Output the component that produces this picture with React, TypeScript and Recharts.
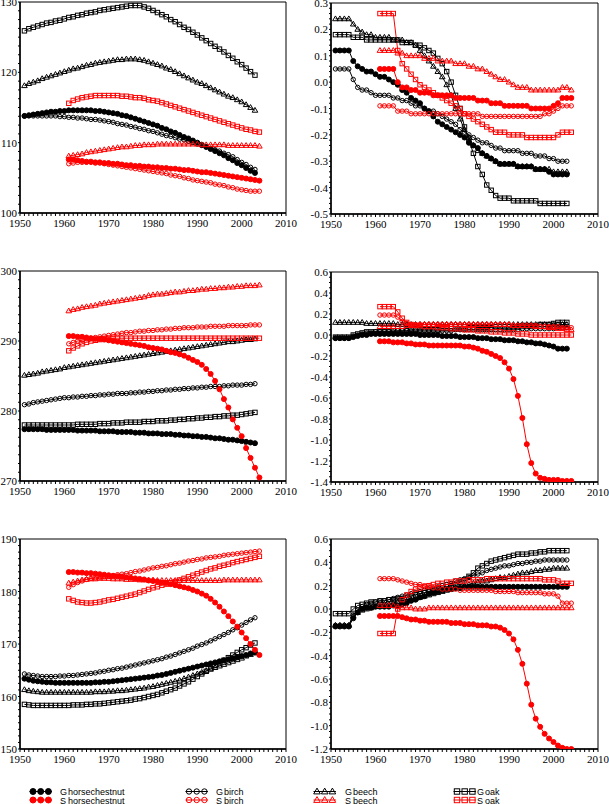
import React from "react";
import { LineChart, Line, XAxis, YAxis, ReferenceArea } from "recharts";

const BLACK = "#000000";
const RED = "#ff0000";
const SERIF = "'Liberation Serif', 'Times New Roman', Times, serif";
const SANS = "'Liberation Sans', Arial, sans-serif";

// G series run 1951-2003, S series run 1961-2004
const gYears = [
  1951, 1952, 1953, 1954, 1955, 1956, 1957, 1958, 1959, 1960,
  1961, 1962, 1963, 1964, 1965, 1966, 1967, 1968, 1969, 1970,
  1971, 1972, 1973, 1974, 1975, 1976, 1977, 1978, 1979, 1980,
  1981, 1982, 1983, 1984, 1985, 1986, 1987, 1988, 1989, 1990,
  1991, 1992, 1993, 1994, 1995, 1996, 1997, 1998, 1999, 2000,
  2001, 2002, 2003,
];
const sYears = [
  1961, 1962, 1963, 1964, 1965, 1966, 1967, 1968, 1969, 1970,
  1971, 1972, 1973, 1974, 1975, 1976, 1977, 1978, 1979, 1980,
  1981, 1982, 1983, 1984, 1985, 1986, 1987, 1988, 1989, 1990,
  1991, 1992, 1993, 1994, 1995, 1996, 1997, 1998, 1999, 2000,
  2001, 2002, 2003, 2004,
];
const xMajor = [1950, 1960, 1970, 1980, 1990, 2000, 2010];

// ---------- top left ----------
const tlGHorse = [
  113.8, 113.9, 114.0, 114.1, 114.2, 114.3, 114.4, 114.4, 114.5, 114.5,
  114.6, 114.6, 114.6, 114.6, 114.6, 114.6, 114.5, 114.5, 114.4, 114.3,
  114.2, 114.1, 113.9, 113.8, 113.6, 113.4, 113.2, 113.0, 112.8, 112.6,
  112.4, 112.1, 111.9, 111.6, 111.4, 111.1, 110.8, 110.6, 110.3, 110.0,
  109.7, 109.4, 109.1, 108.8, 108.5, 108.2, 107.8, 107.5, 107.1, 106.8,
  106.4, 106.0, 105.7,
];
const tlGBirch = [
  113.8, 113.8, 113.8, 113.8, 113.8, 113.8, 113.8, 113.8, 113.7, 113.7,
  113.6, 113.6, 113.5, 113.5, 113.4, 113.3, 113.3, 113.2, 113.1, 113.0,
  112.9, 112.7, 112.6, 112.5, 112.3, 112.2, 112.0, 111.9, 111.7, 111.6,
  111.4, 111.2, 111.0, 110.9, 110.7, 110.5, 110.4, 110.2, 110.0, 109.8,
  109.6, 109.4, 109.2, 109.0, 108.8, 108.5, 108.3, 108.0, 107.6, 107.2,
  106.9, 106.5, 106.2,
];
const tlGBeech = [
  118.1, 118.4, 118.6, 118.8, 119.1, 119.3, 119.5, 119.7, 119.9, 120.1,
  120.3, 120.5, 120.6, 120.8, 121.0, 121.1, 121.3, 121.4, 121.5, 121.6,
  121.7, 121.8, 121.8, 121.9, 121.9, 121.9, 121.8, 121.7, 121.5, 121.3,
  121.1, 120.9, 120.6, 120.4, 120.1, 119.8, 119.5, 119.2, 118.9, 118.6,
  118.4, 118.1, 117.8, 117.5, 117.2, 116.9, 116.6, 116.4, 116.1, 115.8,
  115.4, 115.0, 114.6,
];
const tlGOak = [
  125.9, 126.2, 126.4, 126.6, 126.8, 127.0, 127.1, 127.3, 127.4, 127.6,
  127.8, 127.9, 128.1, 128.2, 128.4, 128.5, 128.6, 128.8, 128.9, 129.0,
  129.1, 129.2, 129.3, 129.4, 129.5, 129.5, 129.5, 129.3, 129.1, 128.8,
  128.5, 128.2, 127.9, 127.5, 127.2, 126.8, 126.4, 126.1, 125.7, 125.3,
  124.9, 124.5, 124.1, 123.7, 123.3, 122.9, 122.4, 122.0, 121.5, 121.1,
  120.6, 120.1, 119.6,
];
const tlSHorse = [
  107.6, 107.6, 107.5, 107.4, 107.3, 107.3, 107.2, 107.2, 107.1, 107.1,
  107.0, 107.0, 106.9, 106.8, 106.8, 106.7, 106.7, 106.6, 106.6, 106.5,
  106.5, 106.4, 106.4, 106.3, 106.3, 106.2, 106.1, 106.1, 106.0, 105.9,
  105.8, 105.8, 105.7, 105.6, 105.5, 105.4, 105.3, 105.2, 105.1, 105.0,
  104.9, 104.8, 104.7, 104.6,
];
const tlSBirch = [
  107.0, 107.1, 107.2, 107.2, 107.2, 107.2, 107.1, 107.1, 107.0, 106.9,
  106.8, 106.7, 106.6, 106.5, 106.4, 106.3, 106.2, 106.1, 106.0, 105.9,
  105.8, 105.7, 105.6, 105.4, 105.3, 105.2, 105.0, 104.9, 104.7, 104.6,
  104.5, 104.4, 104.3, 104.1, 104.0, 103.9, 103.7, 103.6, 103.4, 103.3,
  103.2, 103.1, 103.1, 103.1,
];
const tlSBeech = [
  108.1, 108.2, 108.3, 108.4, 108.6, 108.7, 108.8, 108.9, 109.0, 109.1,
  109.2, 109.3, 109.4, 109.4, 109.5, 109.6, 109.6, 109.7, 109.7, 109.7,
  109.8, 109.8, 109.8, 109.8, 109.8, 109.8, 109.8, 109.8, 109.8, 109.8,
  109.7, 109.7, 109.7, 109.7, 109.7, 109.7, 109.6, 109.6, 109.6, 109.6,
  109.6, 109.6, 109.6, 109.5,
];
const tlSOak = [
  115.6, 116.0, 116.2, 116.4, 116.5, 116.6, 116.7, 116.7, 116.7, 116.7,
  116.7, 116.7, 116.6, 116.6, 116.5, 116.4, 116.4, 116.3, 116.1, 116.0,
  115.9, 115.7, 115.5, 115.3, 115.1, 114.9, 114.7, 114.5, 114.3, 114.1,
  113.9, 113.7, 113.5, 113.3, 113.1, 112.9, 112.7, 112.5, 112.3, 112.1,
  111.9, 111.8, 111.6, 111.5,
];

// ---------- top right ----------
const trGHorse = [
  0.12, 0.12, 0.12, 0.12, 0.08, 0.06, 0.05, 0.04, 0.04, 0.03,
  0.02, 0.02, 0.01, 0.0, -0.01, -0.03, -0.04, -0.06, -0.07, -0.08,
  -0.1, -0.11, -0.13, -0.15, -0.16, -0.17, -0.18, -0.19, -0.2, -0.21,
  -0.23, -0.24, -0.25, -0.27, -0.28, -0.29, -0.3, -0.31, -0.31, -0.31,
  -0.31, -0.32, -0.32, -0.32, -0.32, -0.33, -0.33, -0.33, -0.34, -0.35,
  -0.35, -0.35, -0.35,
];
const trGBirch = [
  0.05, 0.05, 0.05, 0.05, 0.01, -0.02, -0.03, -0.03, -0.04, -0.05,
  -0.05, -0.05, -0.05, -0.06, -0.06, -0.07, -0.07, -0.08, -0.09, -0.09,
  -0.1, -0.11, -0.11, -0.12, -0.13, -0.14, -0.15, -0.16, -0.18, -0.19,
  -0.2, -0.21, -0.22, -0.23, -0.23, -0.24, -0.25, -0.25, -0.26, -0.26,
  -0.26, -0.26, -0.27, -0.27, -0.27, -0.28, -0.28, -0.28, -0.29, -0.29,
  -0.3, -0.3, -0.3,
];
const trGBeech = [
  0.24, 0.24, 0.24, 0.24, 0.22, 0.2, 0.19, 0.18, 0.18, 0.17,
  0.17, 0.17, 0.17, 0.16, 0.16, 0.16, 0.15, 0.15, 0.14, 0.12,
  0.1, 0.08, 0.06, 0.04, 0.02, -0.01, -0.05, -0.1, -0.14, -0.18,
  -0.21, -0.24, -0.26, -0.27, -0.28, -0.29, -0.3, -0.31, -0.31, -0.31,
  -0.31, -0.32, -0.32, -0.32, -0.32, -0.33, -0.33, -0.33, -0.33, -0.34,
  -0.34, -0.34, -0.34,
];
const trGOak = [
  0.18, 0.18, 0.18, 0.18, 0.17, 0.17, 0.17, 0.16, 0.16, 0.16,
  0.16, 0.16, 0.16, 0.16, 0.16, 0.15, 0.15, 0.15, 0.14, 0.14,
  0.13, 0.12, 0.11, 0.09, 0.07, 0.04, 0.0, -0.05, -0.1, -0.17,
  -0.22, -0.27, -0.32, -0.35, -0.39, -0.41, -0.43, -0.44, -0.44, -0.44,
  -0.45, -0.45, -0.45, -0.45, -0.45, -0.45, -0.46, -0.46, -0.46, -0.46,
  -0.46, -0.46, -0.46,
];
const trSHorse = [
  0.05, 0.05, 0.05, 0.05, 0.0, -0.02, -0.02, -0.03, -0.03, -0.04,
  -0.04, -0.04, -0.05, -0.05, -0.05, -0.05, -0.05, -0.06, -0.06, -0.06,
  -0.06, -0.06, -0.07, -0.07, -0.07, -0.08, -0.08, -0.08, -0.09, -0.09,
  -0.09, -0.09, -0.09, -0.09, -0.1, -0.1, -0.1, -0.1, -0.1, -0.09,
  -0.08, -0.06, -0.06, -0.06,
];
const trSBirch = [
  -0.09, -0.09, -0.09, -0.09, -0.11, -0.11, -0.11, -0.12, -0.12, -0.12,
  -0.12, -0.12, -0.12, -0.12, -0.12, -0.12, -0.12, -0.12, -0.12, -0.12,
  -0.12, -0.12, -0.12, -0.13, -0.13, -0.13, -0.13, -0.13, -0.13, -0.13,
  -0.13, -0.13, -0.13, -0.13, -0.13, -0.13, -0.13, -0.12, -0.12, -0.11,
  -0.1, -0.09, -0.09, -0.09,
];
const trSBeech = [
  0.12, 0.12, 0.12, 0.12, 0.11, 0.11, 0.1, 0.1, 0.1, 0.1,
  0.09, 0.09, 0.09, 0.08, 0.08, 0.08, 0.08, 0.07, 0.07, 0.07,
  0.06, 0.06, 0.05, 0.05, 0.04, 0.03, 0.02, 0.01, 0.01, 0.0,
  -0.01, -0.02, -0.02, -0.02, -0.03, -0.03, -0.03, -0.03, -0.03, -0.03,
  -0.03, -0.02, -0.02, -0.03,
];
const trSOak = [
  0.26, 0.26, 0.26, 0.26, 0.12, 0.07, 0.05, 0.03, 0.01, -0.01,
  -0.02, -0.03, -0.04, -0.05, -0.06, -0.07, -0.08, -0.09, -0.1, -0.12,
  -0.13, -0.14, -0.15, -0.16, -0.17, -0.18, -0.19, -0.19, -0.19, -0.2,
  -0.2, -0.2, -0.2, -0.21, -0.21, -0.21, -0.21, -0.21, -0.21, -0.21,
  -0.2, -0.19, -0.19, -0.19,
];

// ---------- middle left ----------
const mlGHorse = [
  277.4, 277.4, 277.4, 277.4, 277.4, 277.3, 277.3, 277.3, 277.3, 277.3,
  277.3, 277.3, 277.2, 277.2, 277.2, 277.2, 277.2, 277.1, 277.1, 277.1,
  277.1, 277.0, 277.0, 277.0, 277.0, 276.9, 276.9, 276.9, 276.8, 276.8,
  276.8, 276.7, 276.7, 276.7, 276.6, 276.6, 276.5, 276.5, 276.4, 276.4,
  276.3, 276.3, 276.2, 276.1, 276.1, 276.0, 275.9, 275.9, 275.8, 275.7,
  275.6, 275.5, 275.4,
];
const mlGBirch = [
  280.9, 281.0, 281.2, 281.3, 281.4, 281.5, 281.6, 281.7, 281.8, 281.9,
  281.9, 282.0, 282.0, 282.1, 282.1, 282.2, 282.2, 282.3, 282.3, 282.4,
  282.4, 282.5, 282.5, 282.5, 282.6, 282.6, 282.7, 282.7, 282.8, 282.8,
  282.9, 282.9, 283.0, 283.0, 283.1, 283.1, 283.2, 283.2, 283.3, 283.3,
  283.4, 283.4, 283.5, 283.5, 283.5, 283.6, 283.6, 283.7, 283.7, 283.7,
  283.8, 283.8, 283.9,
];
const mlGBeech = [
  285.1, 285.2, 285.3, 285.4, 285.6, 285.7, 285.8, 285.9, 286.0, 286.2,
  286.3, 286.4, 286.5, 286.6, 286.7, 286.8, 286.9, 287.0, 287.1, 287.2,
  287.3, 287.4, 287.5, 287.6, 287.7, 287.8, 287.9, 288.0, 288.1, 288.2,
  288.3, 288.4, 288.5, 288.6, 288.7, 288.8, 288.9, 289.0, 289.1, 289.2,
  289.3, 289.4, 289.5, 289.6, 289.7, 289.8, 289.9, 289.9, 290.0, 290.1,
  290.2, 290.2, 290.3,
];
const mlGOak = [
  278.0, 278.0, 278.0, 278.0, 278.0, 278.0, 278.0, 278.0, 278.0, 278.0,
  278.0, 278.0, 278.1, 278.1, 278.1, 278.1, 278.1, 278.2, 278.2, 278.2,
  278.3, 278.3, 278.3, 278.4, 278.4, 278.4, 278.4, 278.5, 278.5, 278.5,
  278.6, 278.6, 278.6, 278.7, 278.7, 278.8, 278.8, 278.9, 278.9, 279.0,
  279.0, 279.1, 279.1, 279.2, 279.2, 279.3, 279.3, 279.4, 279.4, 279.5,
  279.6, 279.7, 279.8,
];
const mlSHorse = [
  290.7, 290.7, 290.6, 290.6, 290.5, 290.4, 290.3, 290.3, 290.2, 290.1,
  290.0, 289.9, 289.8, 289.7, 289.6, 289.5, 289.4, 289.3, 289.1, 289.0,
  288.9, 288.8, 288.6, 288.4, 288.3, 288.1, 287.9, 287.6, 287.3, 287.0,
  286.6, 286.0, 285.3, 284.3, 283.1, 281.7, 280.5, 278.8, 277.6, 276.4,
  274.7, 273.3, 271.9, 270.5,
];
const mlSBirch = [
  289.6, 289.8, 290.0, 290.1, 290.3, 290.4, 290.5, 290.6, 290.7, 290.8,
  290.9, 291.0, 291.1, 291.2, 291.2, 291.3, 291.4, 291.4, 291.5, 291.5,
  291.6, 291.6, 291.7, 291.7, 291.8, 291.8, 291.9, 291.9, 291.9, 292.0,
  292.0, 292.0, 292.1, 292.1, 292.1, 292.1, 292.2, 292.2, 292.2, 292.2,
  292.2, 292.3, 292.3, 292.3,
];
const mlSBeech = [
  294.3, 294.5, 294.6, 294.8, 294.9, 295.0, 295.1, 295.3, 295.4, 295.5,
  295.6, 295.7, 295.8, 295.9, 296.0, 296.1, 296.2, 296.3, 296.5, 296.6,
  296.7, 296.7, 296.8, 296.9, 297.0, 297.0, 297.1, 297.2, 297.2, 297.3,
  297.4, 297.4, 297.5, 297.5, 297.6, 297.6, 297.7, 297.7, 297.8, 297.8,
  297.9, 297.9, 297.9, 298.0,
];
const mlSOak = [
  288.6, 289.0, 289.3, 289.6, 289.8, 290.0, 290.1, 290.2, 290.3, 290.3,
  290.4, 290.4, 290.4, 290.4, 290.4, 290.4, 290.4, 290.4, 290.4, 290.4,
  290.4, 290.4, 290.4, 290.4, 290.4, 290.4, 290.4, 290.4, 290.4, 290.4,
  290.4, 290.4, 290.4, 290.4, 290.4, 290.4, 290.4, 290.4, 290.4, 290.4,
  290.4, 290.4, 290.4, 290.4,
];

// ---------- middle right ----------
const mrGHorse = [
  -0.03, -0.03, -0.03, -0.03, -0.02, -0.01, 0.0, 0.0, 0.01, 0.01,
  0.01, 0.01, 0.01, 0.01, 0.01, 0.01, 0.01, 0.01, 0.01, 0.0,
  0.0, 0.0, 0.0, 0.0, -0.01, -0.01, -0.01, -0.01, -0.02, -0.02,
  -0.02, -0.02, -0.03, -0.03, -0.03, -0.04, -0.04, -0.04, -0.05, -0.05,
  -0.05, -0.06, -0.06, -0.07, -0.07, -0.08, -0.08, -0.09, -0.1, -0.11,
  -0.13, -0.13, -0.13,
];
const mrGBirch = [
  -0.03, -0.03, -0.03, -0.03, -0.01, 0.0, 0.01, 0.02, 0.02, 0.03,
  0.03, 0.03, 0.03, 0.03, 0.04, 0.04, 0.04, 0.04, 0.04, 0.04,
  0.04, 0.04, 0.04, 0.04, 0.04, 0.04, 0.04, 0.05, 0.05, 0.05,
  0.05, 0.05, 0.05, 0.05, 0.05, 0.05, 0.05, 0.05, 0.05, 0.05,
  0.05, 0.05, 0.06, 0.06, 0.06, 0.06, 0.06, 0.06, 0.06, 0.06,
  0.07, 0.07, 0.07,
];
const mrGBeech = [
  0.12, 0.12, 0.12, 0.12, 0.12, 0.12, 0.12, 0.11, 0.11, 0.11,
  0.11, 0.11, 0.11, 0.11, 0.1, 0.1, 0.1, 0.1, 0.1, 0.1,
  0.1, 0.1, 0.1, 0.1, 0.1, 0.1, 0.1, 0.1, 0.1, 0.1,
  0.1, 0.1, 0.1, 0.1, 0.1, 0.1, 0.1, 0.1, 0.1, 0.1,
  0.1, 0.1, 0.1, 0.1, 0.1, 0.1, 0.1, 0.1, 0.1, 0.1,
  0.1, 0.1, 0.1,
];
const mrGOak = [
  -0.02, -0.02, -0.02, -0.02, 0.0, 0.01, 0.02, 0.03, 0.03, 0.03,
  0.03, 0.03, 0.03, 0.04, 0.04, 0.04, 0.04, 0.05, 0.05, 0.05,
  0.05, 0.05, 0.05, 0.05, 0.06, 0.06, 0.06, 0.06, 0.06, 0.06,
  0.07, 0.07, 0.07, 0.07, 0.07, 0.07, 0.08, 0.08, 0.08, 0.08,
  0.08, 0.08, 0.09, 0.09, 0.09, 0.09, 0.1, 0.1, 0.1, 0.11,
  0.12, 0.12, 0.12,
];
const mrSHorse = [
  -0.06, -0.06, -0.06, -0.07, -0.07, -0.07, -0.08, -0.08, -0.09, -0.09,
  -0.09, -0.1, -0.1, -0.1, -0.1, -0.1, -0.1, -0.1, -0.1, -0.11,
  -0.11, -0.12, -0.13, -0.15, -0.16, -0.18, -0.2, -0.22, -0.26, -0.32,
  -0.42, -0.58, -0.79, -1.04, -1.22, -1.32, -1.36, -1.37, -1.38, -1.38,
  -1.38, -1.39, -1.39, -1.39,
];
const mrSBirch = [
  0.19, 0.19, 0.19, 0.19, 0.17, 0.13, 0.11, 0.1, 0.1, 0.1,
  0.1, 0.1, 0.1, 0.1, 0.1, 0.1, 0.1, 0.1, 0.1, 0.1,
  0.1, 0.1, 0.1, 0.1, 0.1, 0.1, 0.1, 0.1, 0.1, 0.1,
  0.09, 0.09, 0.09, 0.09, 0.09, 0.09, 0.08, 0.08, 0.08, 0.08,
  0.08, 0.07, 0.07, 0.07,
];
const mrSBeech = [
  0.08, 0.08, 0.08, 0.08, 0.08, 0.08, 0.09, 0.09, 0.09, 0.1,
  0.1, 0.1, 0.1, 0.1, 0.1, 0.1, 0.1, 0.1, 0.1, 0.1,
  0.1, 0.1, 0.1, 0.1, 0.1, 0.1, 0.1, 0.1, 0.1, 0.1,
  0.09, 0.09, 0.09, 0.09, 0.09, 0.08, 0.08, 0.08, 0.07, 0.07,
  0.06, 0.06, 0.05, 0.05,
];
const mrSOak = [
  0.27, 0.27, 0.27, 0.27, 0.22, 0.16, 0.12, 0.1, 0.09, 0.09,
  0.08, 0.08, 0.08, 0.07, 0.07, 0.07, 0.06, 0.06, 0.06, 0.05,
  0.05, 0.05, 0.04, 0.04, 0.04, 0.03, 0.03, 0.03, 0.02, 0.02,
  0.02, 0.01, 0.01, 0.01, 0.0, 0.0, 0.0, 0.0, 0.0, 0.0,
  0.0, 0.0, 0.0, 0.0,
];

// ---------- bottom left ----------
const blGHorse = [
  163.4, 163.2, 163.0, 162.9, 162.8, 162.7, 162.7, 162.6, 162.6, 162.6,
  162.6, 162.6, 162.6, 162.6, 162.6, 162.6, 162.7, 162.7, 162.8, 162.8,
  162.9, 163.0, 163.1, 163.2, 163.3, 163.4, 163.5, 163.6, 163.7, 163.8,
  164.0, 164.1, 164.3, 164.5, 164.7, 164.9, 165.1, 165.3, 165.5, 165.7,
  165.9, 166.1, 166.3, 166.5, 166.7, 166.9, 167.1, 167.3, 167.5, 167.7,
  167.9, 168.2, 168.4,
];
const blGBirch = [
  164.3, 164.1, 164.0, 163.9, 163.8, 163.8, 163.8, 163.8, 163.9, 163.9,
  164.0, 164.0, 164.1, 164.2, 164.3, 164.4, 164.5, 164.7, 164.8, 165.0,
  165.1, 165.3, 165.4, 165.6, 165.8, 166.0, 166.2, 166.4, 166.6, 166.8,
  167.0, 167.2, 167.5, 167.7, 168.0, 168.3, 168.6, 168.9, 169.2, 169.6,
  169.9, 170.2, 170.6, 171.0, 171.4, 171.8, 172.2, 172.7, 173.1, 173.6,
  174.1, 174.6, 175.0,
];
const blGBeech = [
  161.3, 161.1, 161.0, 160.9, 160.8, 160.8, 160.8, 160.8, 160.8, 160.8,
  160.8, 160.8, 160.8, 160.8, 160.8, 160.8, 160.9, 160.9, 160.9, 161.0,
  161.0, 161.1, 161.1, 161.2, 161.3, 161.4, 161.5, 161.6, 161.8, 161.9,
  162.1, 162.3, 162.5, 162.7, 162.9, 163.1, 163.4, 163.7, 164.0, 164.3,
  164.6, 164.9, 165.2, 165.5, 165.8, 166.1, 166.4, 166.7, 167.0, 167.3,
  167.7, 168.0, 168.3,
];
const blGOak = [
  158.5, 158.4, 158.3, 158.3, 158.3, 158.3, 158.3, 158.3, 158.3, 158.3,
  158.3, 158.4, 158.4, 158.4, 158.5, 158.5, 158.6, 158.6, 158.7, 158.8,
  158.9, 159.0, 159.1, 159.2, 159.3, 159.5, 159.6, 159.8, 160.0, 160.2,
  160.4, 160.7, 161.0, 161.3, 161.6, 162.0, 162.4, 162.8, 163.3, 163.8,
  164.3, 164.8, 165.3, 165.9, 166.4, 166.9, 167.4, 167.9, 168.4, 168.9,
  169.3, 169.8, 170.2,
];
const blSHorse = [
  183.7, 183.7, 183.6, 183.6, 183.5, 183.5, 183.4, 183.3, 183.2, 183.1,
  183.0, 182.9, 182.8, 182.7, 182.6, 182.5, 182.4, 182.3, 182.1, 182.0,
  181.9, 181.7, 181.6, 181.4, 181.2, 181.0, 180.8, 180.6, 180.3, 180.0,
  179.6, 179.2, 178.6, 177.9, 177.1, 176.2, 175.3, 174.3, 173.3, 172.2,
  171.1, 170.0, 168.9, 167.9,
];
const blSBirch = [
  180.8, 181.3, 181.7, 182.0, 182.3, 182.5, 182.6, 182.7, 182.8, 182.9,
  183.0, 183.2, 183.3, 183.4, 183.6, 183.8, 183.9, 184.1, 184.3, 184.5,
  184.6, 184.8, 184.9, 185.1, 185.3, 185.4, 185.6, 185.8, 185.9, 186.1,
  186.2, 186.4, 186.5, 186.6, 186.7, 186.9, 187.0, 187.1, 187.2, 187.3,
  187.4, 187.5, 187.6, 187.7,
];
const blSBeech = [
  181.6, 181.8, 182.0, 182.2, 182.3, 182.4, 182.4, 182.5, 182.5, 182.5,
  182.4, 182.4, 182.4, 182.3, 182.3, 182.3, 182.2, 182.2, 182.2, 182.2,
  182.1, 182.1, 182.1, 182.1, 182.1, 182.1, 182.1, 182.1, 182.1, 182.1,
  182.1, 182.1, 182.1, 182.1, 182.1, 182.2, 182.2, 182.2, 182.2, 182.2,
  182.2, 182.2, 182.2, 182.2,
];
const blSOak = [
  178.6, 178.3, 178.0, 177.9, 177.8, 177.8, 177.9, 178.0, 178.2, 178.4,
  178.5, 178.7, 178.9, 179.1, 179.3, 179.5, 179.8, 180.1, 180.4, 180.7,
  180.9, 181.2, 181.4, 181.7, 181.9, 182.2, 182.5, 182.8, 183.1, 183.4,
  183.7, 184.0, 184.3, 184.5, 184.8, 185.0, 185.2, 185.5, 185.7, 185.9,
  186.1, 186.3, 186.5, 186.7,
];

// ---------- bottom right ----------
const brGHorse = [
  -0.15, -0.15, -0.15, -0.15, -0.08, -0.03, 0.0, 0.01, 0.01, 0.02,
  0.02, 0.02, 0.02, 0.03, 0.03, 0.04, 0.05, 0.07, 0.08, 0.1,
  0.11, 0.13, 0.14, 0.15, 0.16, 0.17, 0.17, 0.18, 0.18, 0.19,
  0.19, 0.19, 0.19, 0.19, 0.19, 0.19, 0.19, 0.19, 0.19, 0.19,
  0.19, 0.19, 0.19, 0.19, 0.19, 0.19, 0.19, 0.19, 0.19, 0.19,
  0.19, 0.19, 0.19,
];
const brGBirch = [
  -0.14, -0.14, -0.14, -0.14, -0.05, -0.01, 0.02, 0.04, 0.05, 0.06,
  0.07, 0.07, 0.08, 0.09, 0.1, 0.11, 0.12, 0.13, 0.14, 0.15,
  0.16, 0.17, 0.18, 0.19, 0.2, 0.21, 0.22, 0.24, 0.25, 0.26,
  0.27, 0.29, 0.3, 0.31, 0.33, 0.34, 0.35, 0.36, 0.37, 0.37,
  0.38, 0.39, 0.39, 0.4, 0.4, 0.41, 0.41, 0.42, 0.42, 0.42,
  0.42, 0.42, 0.42,
];
const brGBeech = [
  -0.14, -0.14, -0.14, -0.14, -0.06, -0.03, -0.01, 0.0, 0.01, 0.02,
  0.03, 0.04, 0.04, 0.05, 0.06, 0.07, 0.07, 0.08, 0.09, 0.1,
  0.11, 0.12, 0.13, 0.14, 0.15, 0.16, 0.17, 0.18, 0.19, 0.2,
  0.21, 0.22, 0.23, 0.24, 0.24, 0.25, 0.26, 0.27, 0.27, 0.28,
  0.29, 0.3, 0.31, 0.31, 0.32, 0.33, 0.33, 0.34, 0.34, 0.35,
  0.35, 0.35, 0.35,
];
const brGOak = [
  -0.04, -0.04, -0.04, -0.04, 0.0, 0.03, 0.04, 0.05, 0.06, 0.06,
  0.07, 0.07, 0.08, 0.08, 0.09, 0.09, 0.1, 0.11, 0.12, 0.13,
  0.14, 0.15, 0.16, 0.17, 0.18, 0.19, 0.2, 0.21, 0.23, 0.25,
  0.28, 0.31, 0.35, 0.37, 0.39, 0.41, 0.42, 0.43, 0.44, 0.45,
  0.46, 0.47, 0.47, 0.47, 0.48, 0.48, 0.49, 0.49, 0.5, 0.5,
  0.5, 0.5, 0.5,
];
const brSHorse = [
  -0.06, -0.06, -0.06, -0.06, -0.06, -0.07, -0.08, -0.09, -0.09, -0.1,
  -0.1, -0.11, -0.11, -0.11, -0.11, -0.11, -0.12, -0.12, -0.12, -0.13,
  -0.13, -0.13, -0.14, -0.14, -0.14, -0.15, -0.15, -0.16, -0.18, -0.21,
  -0.26, -0.35, -0.47, -0.64, -0.82, -0.94, -1.01, -1.07, -1.11, -1.14,
  -1.17, -1.19, -1.2, -1.2,
];
const brSBirch = [
  0.26, 0.26, 0.26, 0.26, 0.25, 0.24, 0.23, 0.22, 0.21, 0.21,
  0.2, 0.19, 0.18, 0.18, 0.17, 0.17, 0.17, 0.17, 0.16, 0.16,
  0.16, 0.16, 0.16, 0.16, 0.16, 0.16, 0.15, 0.15, 0.15, 0.15,
  0.15, 0.14, 0.14, 0.14, 0.14, 0.14, 0.14, 0.13, 0.13, 0.13,
  0.11, 0.05, 0.05, 0.05,
];
const brSBeech = [
  0.03, 0.03, 0.03, 0.03, 0.02, 0.01, 0.01, 0.01, 0.0, 0.0,
  0.0, 0.01, 0.01, 0.01, 0.01, 0.01, 0.01, 0.01, 0.01, 0.01,
  0.01, 0.01, 0.01, 0.01, 0.01, 0.01, 0.01, 0.01, 0.01, 0.01,
  0.01, 0.01, 0.01, 0.01, 0.01, 0.01, 0.01, 0.01, 0.01, 0.01,
  0.01, 0.01, 0.01, 0.01,
];
const brSOak = [
  -0.21, -0.21, -0.21, -0.21, 0.0, 0.08, 0.12, 0.15, 0.17, 0.18,
  0.19, 0.2, 0.21, 0.22, 0.22, 0.23, 0.23, 0.24, 0.24, 0.24,
  0.25, 0.25, 0.25, 0.25, 0.26, 0.26, 0.26, 0.26, 0.26, 0.26,
  0.26, 0.26, 0.26, 0.26, 0.26, 0.26, 0.26, 0.25, 0.25, 0.25,
  0.24, 0.22, 0.22, 0.22,
];

// legend
const legendNames = ["horsechestnut", "birch", "beech", "oak"];
const legendShapes = ["disc", "ring", "tri", "box"];
const legendMarkX = [33, 189, 317, 457];
const legendTextX = [60, 216, 345, 477];

const SERIES = [
  { key: "gHorse", color: BLACK, shape: "disc" },
  { key: "gBirch", color: BLACK, shape: "ring" },
  { key: "gBeech", color: BLACK, shape: "tri" },
  { key: "gOak", color: BLACK, shape: "box" },
  { key: "sHorse", color: RED, shape: "disc" },
  { key: "sBirch", color: RED, shape: "ring" },
  { key: "sBeech", color: RED, shape: "tri" },
  { key: "sOak", color: RED, shape: "box" },
];

const PANELS = [
  {
    id: "tl", left: 20, top: 2, w: 266, h: 211, yw: 20,
    yMajor: [100, 110, 120, 130], ySub: 8, digits: 0,
    g: [tlGHorse, tlGBirch, tlGBeech, tlGOak],
    s: [tlSHorse, tlSBirch, tlSBeech, tlSOak],
  },
  {
    id: "tr", left: 331, top: 3, w: 267, h: 211, yw: 30,
    yMajor: [-0.5, -0.4, -0.3, -0.2, -0.1, 0, 0.1, 0.2, 0.3], ySub: 5, digits: 1,
    g: [trGHorse, trGBirch, trGBeech, trGOak],
    s: [trSHorse, trSBirch, trSBeech, trSOak],
  },
  {
    id: "ml", left: 20, top: 271, w: 266, h: 210, yw: 20,
    yMajor: [270, 280, 290, 300], ySub: 8, digits: 0,
    g: [mlGHorse, mlGBirch, mlGBeech, mlGOak],
    s: [mlSHorse, mlSBirch, mlSBeech, mlSOak],
  },
  {
    id: "mr", left: 331, top: 272, w: 267, h: 210, yw: 30,
    yMajor: [-1.4, -1.2, -1.0, -0.8, -0.6, -0.4, -0.2, 0, 0.2, 0.4, 0.6], ySub: 4, digits: 1,
    g: [mrGHorse, mrGBirch, mrGBeech, mrGOak],
    s: [mrSHorse, mrSBirch, mrSBeech, mrSOak],
  },
  {
    id: "bl", left: 20, top: 539, w: 266, h: 210, yw: 20,
    yMajor: [150, 160, 170, 180, 190], ySub: 8, digits: 0,
    g: [blGHorse, blGBirch, blGBeech, blGOak],
    s: [blSHorse, blSBirch, blSBeech, blSOak],
  },
  {
    id: "br", left: 331, top: 539, w: 267, h: 210, yw: 30,
    yMajor: [-1.2, -1.0, -0.8, -0.6, -0.4, -0.2, 0, 0.2, 0.4, 0.6], ySub: 4, digits: 1,
    g: [brGHorse, brGBirch, brGBeech, brGOak],
    s: [brSHorse, brSBirch, brSBeech, brSOak],
  },
];

function buildRows(g: number[][], s: number[][]) {
  const years = Array.from(new Set([...gYears, ...sYears])).sort((a, b) => a - b);
  return years.map((year) => {
    const row: any = { year };
    const gi = gYears.indexOf(year);
    const si = sYears.indexOf(year);
    SERIES.slice(0, 4).forEach((sr, j) => (row[sr.key] = gi >= 0 ? g[j][gi] : null));
    SERIES.slice(4).forEach((sr, j) => (row[sr.key] = si >= 0 ? s[j][si] : null));
    return row;
  });
}

// major ticks plus evenly spaced minor ticks between them
function subdivide(majors: number[], n: number) {
  const out: number[] = [];
  for (let i = 0; i < majors.length - 1; i++) {
    for (let j = 0; j < n; j++) out.push(majors[i] + ((majors[i + 1] - majors[i]) * j) / n);
  }
  out.push(majors[majors.length - 1]);
  return out;
}

function Mark({ shape, color, cx, cy, r }: any) {
  if (shape === "disc") return <circle cx={cx} cy={cy} r={r} fill={color} stroke={color} strokeWidth={1} />;
  if (shape === "ring") return <circle cx={cx} cy={cy} r={r - 0.3} fill="none" stroke={color} strokeWidth={1} />;
  if (shape === "tri") {
    const pts = `${cx},${cy - r - 0.4} ${cx - r - 0.3},${cy + r - 0.6} ${cx + r + 0.3},${cy + r - 0.6}`;
    return <polygon points={pts} fill="none" stroke={color} strokeWidth={1} />;
  }
  return <rect x={cx - r + 0.3} y={cy - r + 0.3} width={2 * r - 0.6} height={2 * r - 0.6} fill="none" stroke={color} strokeWidth={1} />;
}

const dotFor = (shape: string, color: string) => (p: any) => {
  const k = `d-${p.index}`;
  if (p.cx == null || p.cy == null || p.value == null || Number.isNaN(p.cy)) return <g key={k} />;
  return <Mark key={k} shape={shape} color={color} cx={p.cx} cy={p.cy} r={2.5} />;
};

// tick label renderers with an explicit serif face
const makeXTick = () => (props: any) => {
  const v = props.payload?.value;
  const m = xMajor.find((mm) => Math.abs(mm - v) < 1e-6);
  if (m === undefined) return <g />;
  return (
    <text x={props.x} y={props.y + 9} textAnchor="middle" fontFamily={SERIF} fontSize={11} fill={BLACK}>
      {String(m)}
    </text>
  );
};
const makeYTick = (majors: number[], digits: number) => (props: any) => {
  const v = props.payload?.value;
  const m = majors.find((mm) => Math.abs(mm - v) < 1e-6);
  if (m === undefined) return <g />;
  return (
    <text x={props.x} y={props.y + 4} textAnchor="end" fontFamily={SERIF} fontSize={11} fill={BLACK}>
      {m.toFixed(digits)}
    </text>
  );
};

function Panel({ p }: any) {
  const MT = 8;
  const MR = 14;
  const XH = 22;
  const rows = buildRows(p.g, p.s);
  const lo = p.yMajor[0];
  const hi = p.yMajor[p.yMajor.length - 1];
  const xTicks = subdivide(xMajor, 10);
  const yTicks = subdivide(p.yMajor, p.ySub);
  return (
    <div style={{ position: "absolute", left: p.left - p.yw, top: p.top - MT }}>
      <LineChart
        width={p.yw + p.w + MR}
        height={MT + p.h + XH}
        data={rows}
        margin={{ top: MT, right: MR, bottom: 0, left: 0 }}
      >
        <XAxis
          dataKey="year"
          type="number"
          domain={[1950, 2010]}
          ticks={xTicks}
          interval={0}
          height={XH}
          tickSize={3}
          tickMargin={2}
          tick={makeXTick()}
          axisLine={{ stroke: BLACK, strokeWidth: 1.5 }}
          tickLine={{ stroke: BLACK }}
          allowDataOverflow
        />
        <YAxis
          type="number"
          domain={[lo, hi]}
          ticks={yTicks}
          interval={0}
          width={p.yw}
          tickSize={2}
          tickMargin={1}
          tick={makeYTick(p.yMajor, p.digits)}
          axisLine={{ stroke: BLACK, strokeWidth: 1.5 }}
          tickLine={{ stroke: BLACK }}
          allowDataOverflow
        />
        <ReferenceArea
          x1={1950}
          x2={2010}
          y1={lo}
          y2={hi}
          fill="none"
          stroke={BLACK}
          strokeWidth={1}
          ifOverflow="visible"
        />
        {SERIES.map((sr) => (
          <Line
            key={sr.key}
            dataKey={sr.key}
            type="linear"
            stroke={sr.color}
            strokeWidth={1}
            dot={dotFor(sr.shape, sr.color)}
            activeDot={false}
            connectNulls={false}
            isAnimationActive={false}
          />
        ))}
      </LineChart>
    </div>
  );
}

function Legend() {
  const rows = [
    { prefix: "G", color: BLACK, y: 11.5 },
    { prefix: "S", color: RED, y: 20 },
  ];
  return (
    <svg width={609} height={24} style={{ position: "absolute", left: 0, top: 780 }}>
      {legendNames.map((name, i) => (
        <g key={name}>
          {rows.map((row) => (
            <g key={row.prefix}>
              <line
                x1={legendMarkX[i] - 3.5}
                x2={legendMarkX[i] + 2 * 7.7 + 3.5}
                y1={row.y}
                y2={row.y}
                stroke={row.color}
                strokeWidth={1}
              />
              {[0, 1, 2].map((k) => (
                <Mark key={k} shape={legendShapes[i]} color={row.color} cx={legendMarkX[i] + k * 7.7} cy={row.y} r={3} />
              ))}
              <text x={legendTextX[i]} y={row.y + 3.5} fontFamily={SANS} fontSize={9} fill={BLACK}>
                {row.prefix}
              </text>
              <text x={legendTextX[i] + 8} y={row.y + 3.5} fontFamily={SANS} fontSize={9} fill={BLACK}>
                {name}
              </text>
            </g>
          ))}
        </g>
      ))}
    </svg>
  );
}

export default function App() {
  return (
    <div style={{ position: "absolute", left: 0, top: 0, width: 609, height: 804, background: "#fff" }}>
      {PANELS.map((p) => (
        <Panel key={p.id} p={p} />
      ))}
      <Legend />
    </div>
  );
}
